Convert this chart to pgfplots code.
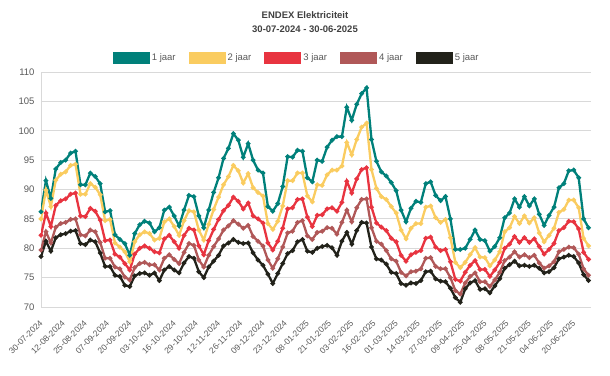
\documentclass[border=0pt]{standalone}
\usepackage{fontspec}
\setmainfont{Liberation Sans}
\usepackage{pgfplots}
\usepackage{pgfplotstable}
\pgfplotsset{compat=1.18}
\definecolor{c1}{RGB}{0,128,122}
\definecolor{c2}{RGB}{250,204,96}
\definecolor{c3}{RGB}{232,52,64}
\definecolor{c4}{RGB}{176,88,88}
\definecolor{c5}{RGB}{34,34,26}
\definecolor{txt}{RGB}{89,89,89}
\definecolor{ttl}{RGB}{64,64,64}
\definecolor{grd}{RGB}{217,217,217}
\pgfplotstableread{
i T Y R P B
0 86.2 85.0 82.2 79.7 78.6
2 91.5 89.9 86.0 82.8 81.2
4 88.5 87.1 83.7 80.9 79.5
6 93.5 91.6 87.3 83.6 81.8
8 94.6 92.6 88.1 84.2 82.3
10 95.0 93.0 88.4 84.4 82.5
12 96.2 94.1 89.2 84.9 82.9
14 96.5 94.3 89.4 85.0 83.0
16 90.8 89.2 85.5 82.3 80.8
18 90.8 89.2 85.4 82.1 80.6
20 92.8 91.0 86.8 83.1 81.4
22 92.2 90.4 86.3 82.8 81.1
24 91.0 89.1 84.8 81.0 79.2
26 86.2 84.7 81.3 78.3 76.9
28 86.4 84.9 81.4 78.3 76.9
30 82.3 80.9 79.0 76.8 75.4
32 81.5 80.2 78.5 76.5 75.2
34 80.8 79.4 77.4 75.1 73.7
36 78.8 77.7 76.3 74.6 73.5
38 82.5 81.1 79.0 76.7 75.3
40 84.0 82.3 80.0 77.4 75.7
42 84.6 82.8 80.4 77.6 75.8
44 84.3 82.5 80.0 77.2 75.4
46 82.8 81.4 79.4 77.2 75.8
48 83.5 81.7 79.2 76.3 74.5
50 86.5 84.5 81.6 78.3 76.3
52 87.0 85.0 82.2 78.9 76.9
54 85.5 83.7 81.1 78.1 76.3
56 83.8 82.2 80.0 77.4 75.8
58 86.5 84.7 82.2 79.3 77.5
60 89.0 86.4 83.4 80.8 78.6
62 88.8 86.2 83.1 80.5 78.3
64 85.5 83.1 80.4 78.0 76.0
66 83.5 81.4 78.9 76.8 75.0
68 86.5 84.1 81.3 78.8 76.8
70 89.5 86.6 83.2 80.3 77.8
72 92.0 88.7 84.9 81.6 78.8
74 95.3 90.8 86.4 83.1 80.4
76 97.0 92.2 87.3 83.8 80.9
78 99.5 94.1 88.7 84.7 81.5
80 98.4 93.2 88.0 84.1 81.0
82 95.5 91.1 86.7 83.4 80.8
84 97.8 92.7 87.7 83.9 80.9
86 95.0 90.3 85.5 82.0 79.2
88 93.3 89.5 85.0 81.2 78.0
90 92.8 88.9 84.3 80.4 77.1
92 87.1 84.2 80.9 78.0 75.6
94 86.3 83.2 79.7 76.6 74.0
96 87.6 84.6 81.2 78.2 75.7
98 90.5 87.2 83.4 80.2 77.4
100 95.6 91.5 86.7 82.6 79.1
102 95.5 91.5 86.9 82.9 79.6
104 96.7 92.8 88.3 84.4 81.1
106 96.5 92.8 88.4 84.7 81.5
108 92.0 88.9 85.3 82.1 79.5
110 91.3 87.9 83.7 81.5 79.3
112 95.0 90.8 85.6 82.7 80.0
114 94.8 90.7 85.7 82.9 80.3
116 97.2 92.5 86.7 83.5 80.5
118 98.4 93.3 86.9 83.4 80.1
120 99.0 93.3 86.3 82.4 78.8
122 99.0 94.0 87.8 84.4 81.2
124 104.0 98.0 91.4 86.5 82.7
126 101.8 95.9 89.4 84.5 80.7
128 104.5 98.5 91.8 86.9 83.0
130 106.3 100.6 93.4 88.3 84.4
132 107.3 101.3 93.7 88.4 84.3
134 98.5 93.4 87.0 83.5 80.2
136 94.8 90.2 84.3 81.2 78.2
138 93.0 88.8 83.6 80.7 78.0
140 92.3 88.3 83.0 79.6 77.3
142 91.2 87.1 81.7 78.2 75.9
144 89.8 86.0 81.1 77.8 75.7
146 86.5 83.1 78.8 75.9 74.0
148 84.5 81.6 77.8 75.3 73.7
150 86.8 83.4 78.9 76.0 74.1
152 88.0 84.2 79.3 76.1 74.0
154 87.8 84.2 79.6 76.5 74.5
156 91.0 87.0 81.7 78.3 76.0
158 91.3 87.2 81.9 78.4 76.1
160 89.0 85.2 80.2 76.9 74.8
162 88.1 84.4 79.6 76.5 74.4
164 88.8 84.9 79.8 76.5 74.3
166 85.0 81.8 77.7 75.0 73.2
168 79.8 77.6 74.7 72.8 71.6
170 79.8 76.7 74.4 72.2 70.8
172 80.0 77.6 75.9 74.1 73.1
174 81.5 78.9 77.1 75.2 74.1
176 83.1 80.1 77.9 75.8 74.5
178 81.5 78.5 76.4 74.3 73.0
180 81.3 78.4 76.4 74.3 73.1
182 79.5 77.0 75.2 73.5 72.4
184 80.3 78.0 76.3 74.6 73.6
186 81.8 79.4 77.6 75.9 74.8
188 85.2 82.8 80.0 77.9 76.6
190 86.0 83.5 80.7 78.5 77.2
192 88.4 85.4 82.0 79.4 77.8
194 87.0 84.2 81.0 78.5 77.0
196 88.8 85.5 81.8 78.9 77.1
198 87.2 84.3 81.0 78.4 76.9
200 88.4 85.2 81.6 78.8 77.1
202 85.8 82.6 80.3 77.5 76.6
204 83.9 81.1 79.0 76.6 75.8
206 85.6 82.2 79.8 77.0 76.0
208 87.0 83.4 80.8 77.7 76.7
210 90.3 86.1 83.0 79.4 78.2
212 91.0 86.6 83.5 79.8 78.5
214 93.2 88.2 84.6 80.2 78.8
216 93.3 88.2 84.5 80.1 78.6
218 92.0 86.9 83.3 79.0 77.5
220 85.0 81.7 79.3 76.5 75.5
222 83.5 80.4 78.1 75.4 74.5
}\data
\begin{document}
\begin{tikzpicture}[x=1pt,y=1pt]
\path[use as bounding box] (0,0) rectangle (610,375);
\node[font=\fontsize{9.5}{11}\selectfont\bfseries, text=ttl] at (305,360) {ENDEX Elektriciteit};
\node[font=\fontsize{9.5}{11}\selectfont\bfseries, text=ttl] at (305,346) {30-07-2024 - 30-06-2025};
\begin{axis}[
  at={(41pt,68pt)}, anchor=south west,
  scale only axis, width=550pt, height=235pt,
  xmin=0, xmax=223, ymin=70, ymax=110,
  ytick={70,75,...,110},
  xtick={0,9,...,216},
  xticklabels={30-07-2024,12-08-2024,25-08-2024,07-09-2024,20-09-2024,03-10-2024,16-10-2024,29-10-2024,12-11-2024,26-11-2024,09-12-2024,23-12-2024,08-01-2025,21-01-2025,03-02-2025,16-02-2025,01-03-2025,14-03-2025,27-03-2025,09-04-2025,25-04-2025,08-05-2025,21-05-2025,04-06-2025,20-06-2025},
  ymajorgrids, grid style={grd, line width=0.8pt},
  axis line style={draw=none},
  major tick length=0pt,
  /pgf/number format/assume math mode=true,
  yticklabel style={font=\fontsize{9.5}{11}\selectfont, text=txt, xshift=-3pt},
  xticklabel style={xshift=-2pt, yshift=-12pt, rotate=45, anchor=north east, font=\fontsize{8.5}{10}\selectfont, text=txt, inner sep=0.3pt},
  legend columns=5,
  legend style={at={(0.465,1.06)}, anchor=center, draw=none, fill=none,
    font=\fontsize{9.5}{11}\selectfont, text=txt,
    /tikz/every even column/.append style={column sep=11pt}},
  legend image code/.code={\fill[#1, draw=none] (0pt,-6pt) rectangle (37pt,6pt);},
  every axis plot/.append style={line width=2.3pt, mark=*, mark size=1pt},
]
\draw[grd, line width=0.8pt] (rel axis cs:0,0) -- (rel axis cs:0,1);
\addplot[c1] table[x=i, y=T] {\data};
\addlegendentry{1 jaar}
\addplot[c2] table[x=i, y=Y] {\data};
\addlegendentry{2 jaar}
\addplot[c3] table[x=i, y=R] {\data};
\addlegendentry{3 jaar}
\addplot[c4] table[x=i, y=P] {\data};
\addlegendentry{4 jaar}
\addplot[c5] table[x=i, y=B] {\data};
\addlegendentry{5 jaar}
\end{axis}
\end{tikzpicture}
\end{document}
